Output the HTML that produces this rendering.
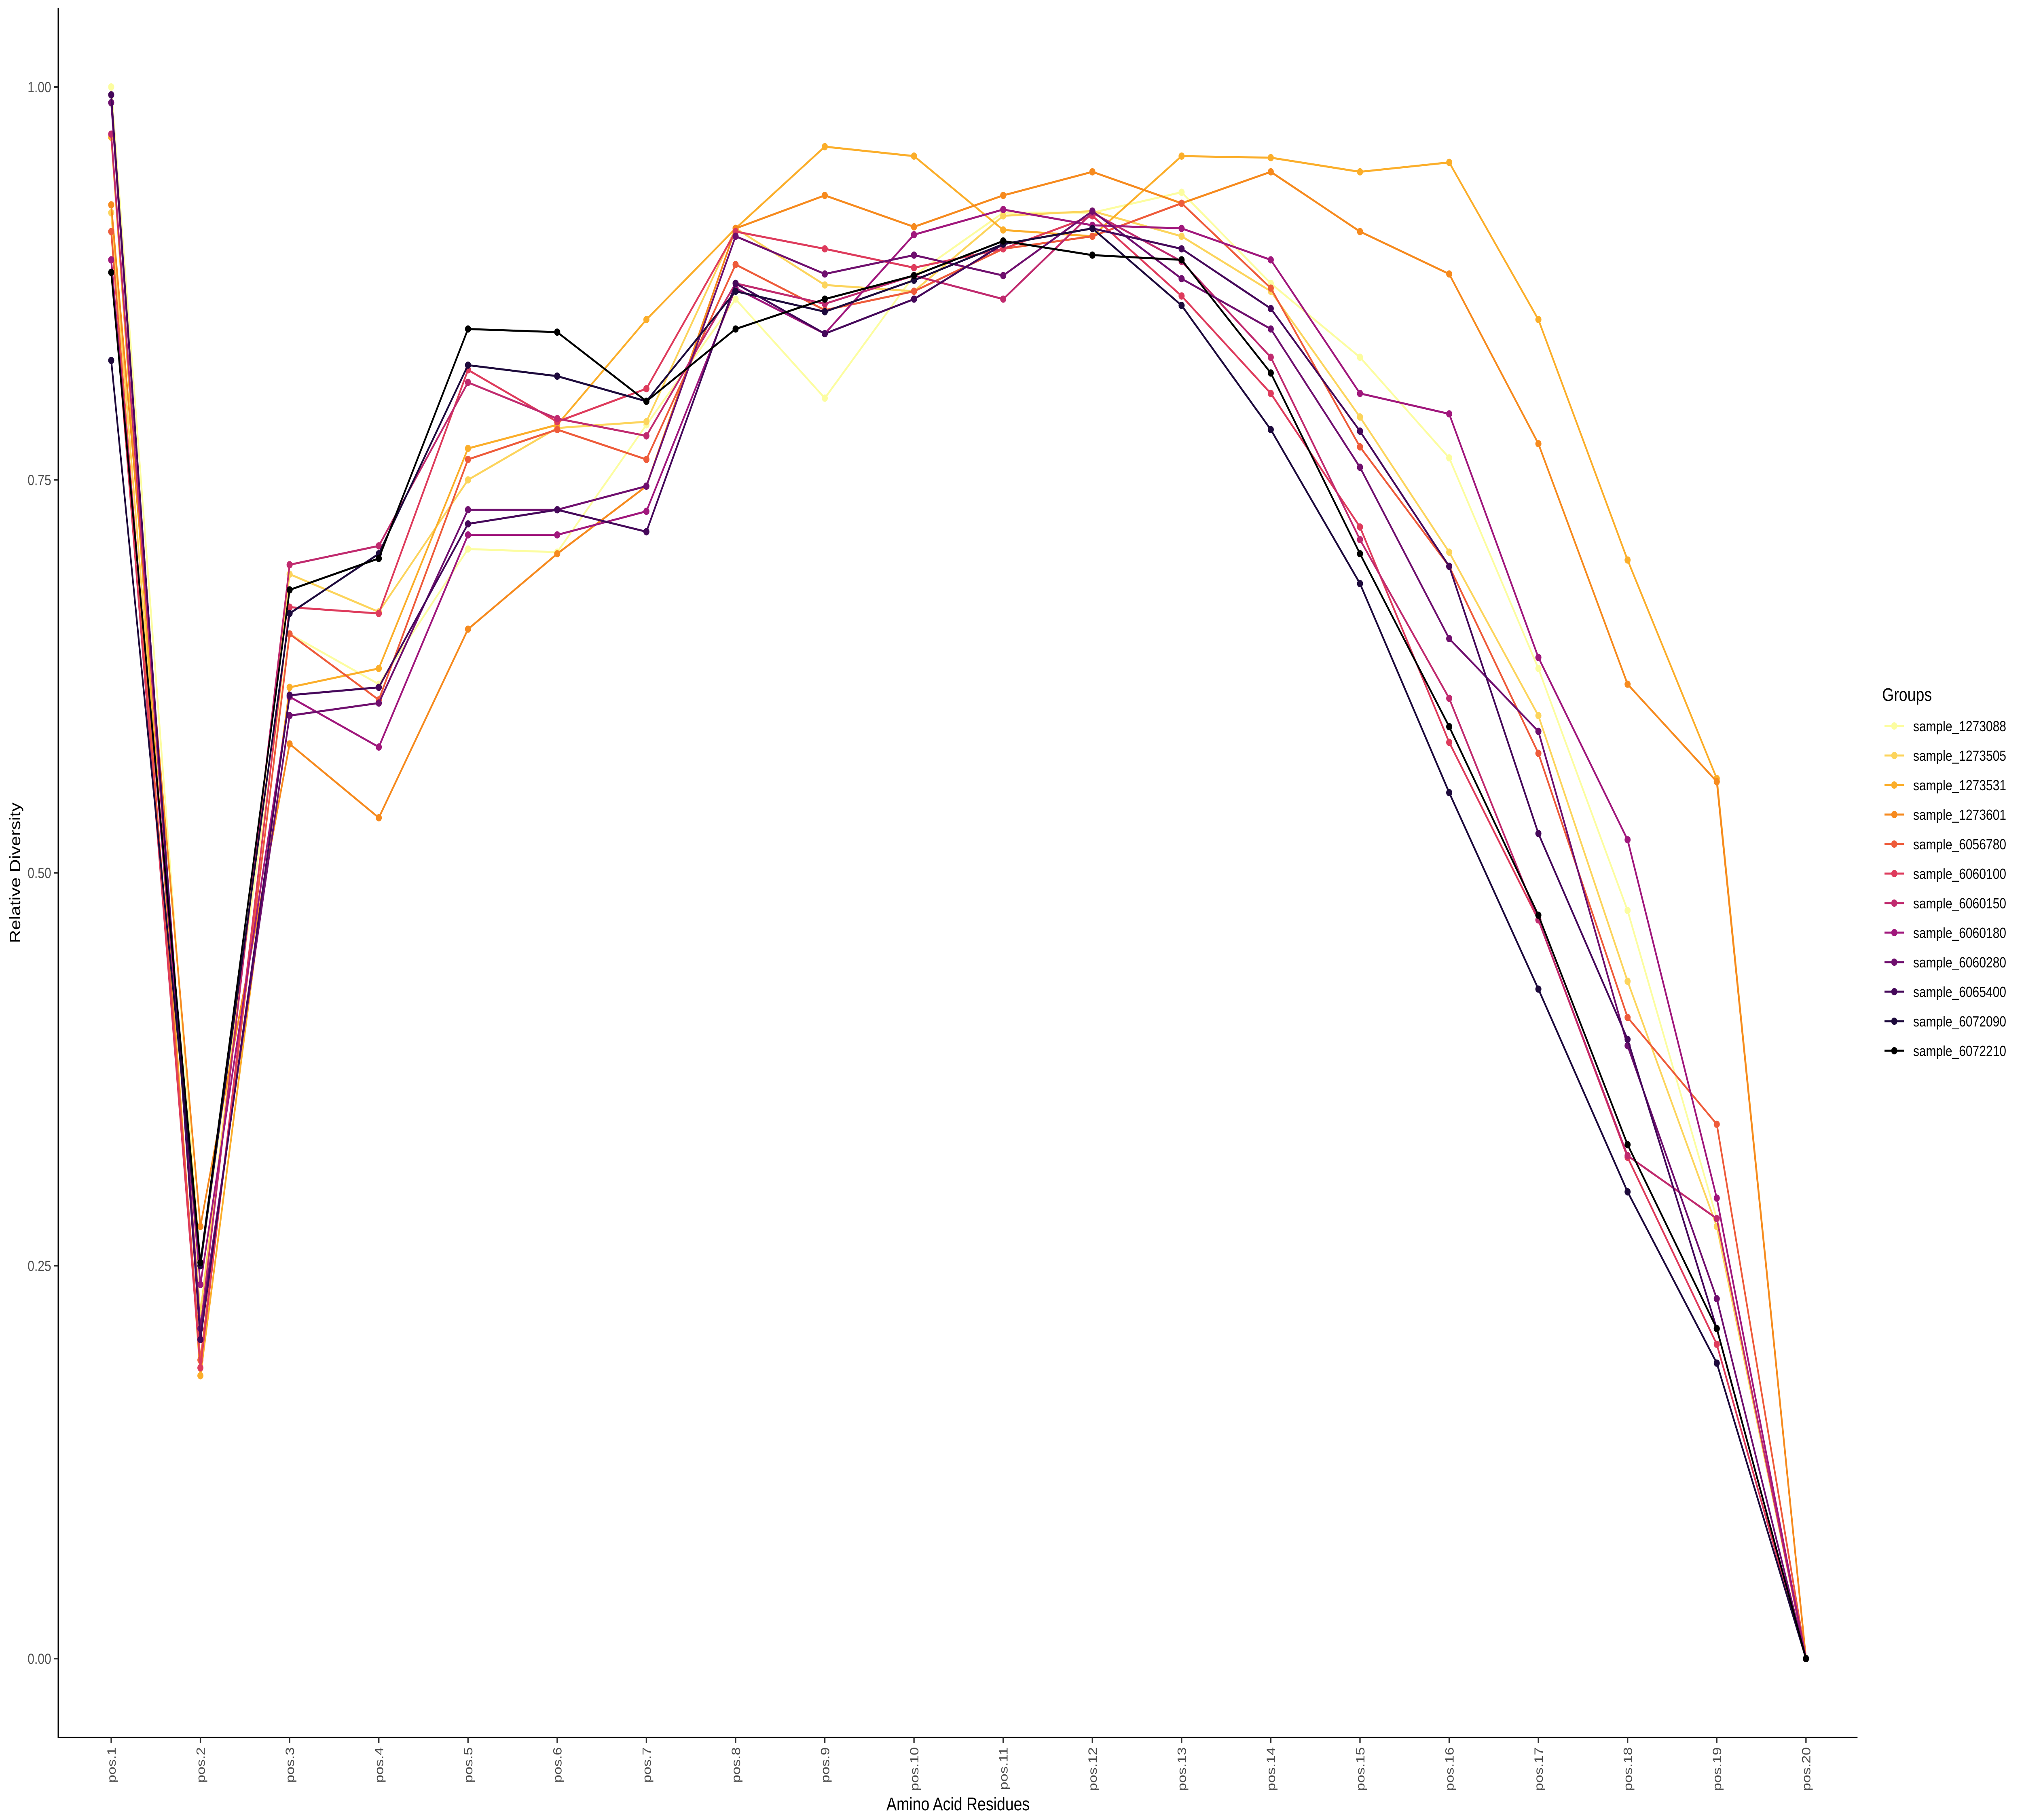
<!DOCTYPE html>
<html><head><meta charset="utf-8">
<style>
html,body{margin:0;padding:0;background:#fff;overflow:hidden;width:100vw;height:100vh;}
svg{display:block;width:100vw;height:100vh;font-family:"Liberation Sans","DejaVu Sans",sans-serif;}
</style></head>
<body>
<svg id="chart" viewBox="0 0 6000 4500" preserveAspectRatio="none" xmlns="http://www.w3.org/2000/svg">
<rect width="6000" height="4500" fill="#fff"/>
<g id="plot"></g>
<g id="axes"></g>
<g id="legend"></g>
</svg>
<script>
const categories = ["pos.1","pos.2","pos.3","pos.4","pos.5","pos.6","pos.7","pos.8","pos.9","pos.10","pos.11","pos.12","pos.13","pos.14","pos.15","pos.16","pos.17","pos.18","pos.19","pos.20"];
const yTicks = [0, 0.25, 0.5, 0.75, 1.0];
const yTickLabels = ["0.00","0.25","0.50","0.75","1.00"];
const seriesNames = ["sample_1273088","sample_1273505","sample_1273531","sample_1273601","sample_6056780","sample_6060100","sample_6060150","sample_6060180","sample_6060280","sample_6065400","sample_6072090","sample_6072210"];
const seriesColors = ["#FCFDA0","#FCD45C","#FBAE2A","#F68A1E","#EE5B3A","#DE3B5C","#C02A6E","#A0177C","#6F0F6E","#45085A","#1D0A3C","#000000"];
const s1273088 = [1.0,0.25,0.652,0.62,0.706,0.704,0.785,0.865,0.802,0.88,0.92,0.92,0.933,0.875,0.828,0.764,0.63,0.476,0.28,0];
const s1273505 = [0.92,0.22,0.69,0.666,0.75,0.783,0.787,0.91,0.874,0.87,0.918,0.921,0.905,0.87,0.79,0.704,0.60,0.431,0.275,0];
const s1273531 = [0.968,0.18,0.618,0.63,0.77,0.785,0.852,0.91,0.962,0.956,0.909,0.905,0.956,0.955,0.946,0.952,0.852,0.699,0.56,0];
const s1273601 = [0.925,0.275,0.582,0.535,0.655,0.703,0.746,0.91,0.931,0.911,0.931,0.946,0.926,0.946,0.908,0.881,0.773,0.62,0.558,0];
const s6056780 = [0.908,0.19,0.652,0.61,0.763,0.782,0.763,0.887,0.858,0.87,0.897,0.905,0.926,0.872,0.771,0.695,0.576,0.408,0.34,0];
const s6060100 = [0.89,0.185,0.669,0.665,0.82,0.787,0.808,0.908,0.897,0.885,0.897,0.918,0.867,0.805,0.72,0.583,0.47,0.319,0.2,0];
const s6060150 = [0.97,0.21,0.696,0.708,0.812,0.789,0.778,0.875,0.862,0.88,0.865,0.92,0.889,0.828,0.712,0.611,0.47,0.32,0.28,0];
const s6060180 = [0.89,0.238,0.612,0.58,0.715,0.715,0.73,0.872,0.843,0.906,0.922,0.912,0.91,0.89,0.805,0.792,0.637,0.521,0.293,0];
const s6060280 = [0.99,0.21,0.6,0.608,0.731,0.731,0.746,0.905,0.881,0.893,0.88,0.921,0.878,0.846,0.758,0.649,0.59,0.39,0.229,0];
const s6065400 = [0.995,0.203,0.613,0.618,0.722,0.731,0.717,0.875,0.843,0.865,0.9,0.91,0.897,0.859,0.781,0.695,0.525,0.394,0.21,0];
const s6072090 = [0.826,0.25,0.665,0.703,0.823,0.816,0.80,0.87,0.857,0.877,0.9,0.91,0.861,0.782,0.684,0.551,0.426,0.297,0.188,0];
const s6072210 = [0.882,0.252,0.68,0.70,0.846,0.844,0.80,0.846,0.865,0.88,0.902,0.893,0.89,0.818,0.703,0.593,0.473,0.327,0.21,0];
const seriesValues = [s1273088,s1273505,s1273531,s1273601,s6056780,s6060100,s6060150,s6060180,s6060280,s6065400,s6072090,s6072210];

const NS = "http://www.w3.org/2000/svg";
const X0 = 330, X1 = 5359, Y0 = 4101, Y1 = 215;
const xScale = i => X0 + (X1 - X0) * i / (categories.length - 1);
const yScale = v => Y0 + (Y1 - Y0) * v;
function mk(tag, attrs, parent){const e=document.createElementNS(NS,tag);for(const k in attrs)e.setAttribute(k,attrs[k]);parent.appendChild(e);return e;}
const plot=document.getElementById('plot'), axes=document.getElementById('axes'), legend=document.getElementById('legend');

seriesValues.forEach((vals, si) => {
  const g = mk('g', {}, plot);
  
  
  const pts = vals.map((v,i)=>xScale(i)+','+yScale(v)).join(' ');
  const pl = mk('polyline', {points:pts, fill:'none', stroke:seriesColors[si], 'stroke-width':5, 'stroke-linejoin':'round'}, g);
  
  
  vals.forEach((v,i)=>{
    const c = mk('circle', {cx:xScale(i), cy:yScale(v), r:9, fill:seriesColors[si]}, g);
    
    
  });
});

const ax1 = mk('line',{x1:173,y1:19,x2:173,y2:4297,stroke:'#000','stroke-width':4},axes);


const ax2 = mk('line',{x1:171,y1:4296,x2:5512,y2:4296,stroke:'#000','stroke-width':4},axes);



yTicks.forEach((t,i)=>{
  const y = yScale(t);
  const tk = mk('line',{x1:160,y1:y,x2:173,y2:y,stroke:'#333','stroke-width':4},axes);
  
  
  const tx = mk('text',{x:152,y:y+13,'text-anchor':'end','font-size':36,fill:'#4d4d4d'},axes);
  tx.textContent = yTickLabels[i];
  
  
});
categories.forEach((c,i)=>{
  const x = xScale(i);
  const tk = mk('line',{x1:x,y1:4296,x2:x,y2:4310,stroke:'#333','stroke-width':4},axes);
  
  
  const tx = mk('text',{x:0,y:0,'text-anchor':'end','font-size':36,fill:'#4d4d4d',transform:'translate('+(x+13)+',4320) rotate(-90)'},axes);
  tx.textContent = c;
  
  
});
const xt = mk('text',{x:2843,y:4476,'text-anchor':'middle','font-size':45,fill:'#000'},axes);
xt.textContent='Amino Acid Residues';


const yt = mk('text',{x:0,y:0,'text-anchor':'middle','font-size':45,fill:'#000',transform:'translate(60,2158) rotate(-90)'},axes);
yt.textContent='Relative Diversity';



const lt = mk('text',{x:5585,y:1733,'font-size':45,fill:'#000'},legend);
lt.textContent='Groups';


seriesNames.forEach((n,i)=>{
  const y = 1795 + i*73;
  const g = mk('g',{},legend);
  
  
  mk('line',{x1:5592,y1:y,x2:5650,y2:y,stroke:seriesColors[i],'stroke-width':5},g);
  mk('circle',{cx:5621,cy:y,r:9,fill:seriesColors[i]},g);
  const t = mk('text',{x:5677,y:y+13,'font-size':36,fill:'#000'},g);
  t.textContent = n;
});
</script>
</body></html>
